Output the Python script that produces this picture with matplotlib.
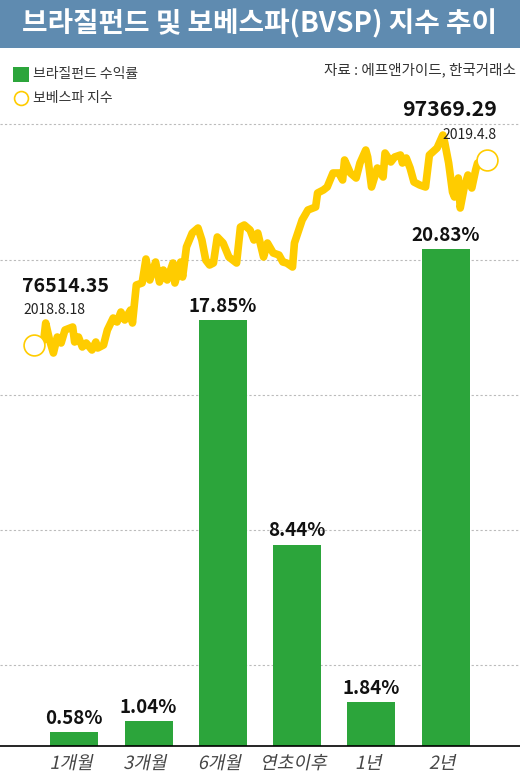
import matplotlib
matplotlib.use("Agg")
from matplotlib import pyplot as plt
from matplotlib.patches import Rectangle, PathPatch
from matplotlib.lines import Line2D
from matplotlib.textpath import TextPath
from matplotlib.font_manager import FontProperties
from matplotlib.transforms import Affine2D, ScaledTranslation

plt.rcParams['font.family'] = ['Noto Sans CJK KR', 'DejaVu Sans']

# fund returns (%)
periods = ["1개월", "3개월", "6개월", "연초이후", "1년", "2년"]
returns = [0.58, 1.04, 17.85, 8.44, 1.84, 20.83]

# BVSP index, days since 2018-08-18
bvsp_day = [0, 3, 4, 6, 8, 10, 12, 14, 18, 19, 21, 23, 25, 28, 30, 31, 34, 36, 39, 41,
            43, 45, 48, 49, 51, 54, 56, 58, 61, 63, 65, 67, 70, 71, 74, 75, 77, 80, 83, 85,
            87, 89, 91, 93, 96, 99, 101, 103, 105, 107, 110, 112, 114, 117, 119, 122, 125, 127, 129, 132,
            133, 137, 140, 144, 145, 148, 150, 153, 156, 158, 159, 162, 165, 167, 170, 171, 173, 176, 179, 180,
            183, 185, 188, 189, 191, 193, 195, 198, 201, 203, 207, 210, 211, 213, 215, 216, 218, 219, 221, 223,
            225, 227, 228, 233]
bvsp = [76514.35, 77078, 78993, 77078, 75612, 77416, 76740, 78205, 78543, 76852,
        77416, 76289, 76740, 75951, 76852, 76176, 76514, 78205, 79557, 79106,
        80233, 79332, 80459, 78993, 83276, 83501, 86206, 83840, 85868, 83614,
        84967, 83840, 85755, 83501, 85868, 84178, 87559, 89136, 89700, 88348,
        86094, 85530, 85755, 88686, 88009, 86432, 86094, 85755, 89813, 90038,
        89475, 88348, 89136, 86432, 88009, 86882, 86657, 85868, 85755, 85305,
        88009, 90602, 91729, 92067, 93644, 93983, 94321, 95898, 95898, 95110,
        97364, 95898, 95335, 97025, 98491, 97702, 94321, 96462, 95448, 98152,
        97138, 97702, 97927, 97025, 97589, 96462, 94884, 94546, 94321, 97927,
        98716, 100181, 99279, 97025, 93757, 93194, 95335, 91954, 94208, 95673,
        94208, 96237, 97025, 97369.29]

grid_levels = [3.39, 9.05, 14.71, 20.37, 26.07]

W, H = 520, 773
fig = plt.figure(figsize=(W / 100, H / 100), dpi=100)
fig.patch.set_facecolor("white")

def fx(px):
    return px / W

def fy(py):
    return 1 - py / H

# title bar
fig.add_artist(Rectangle((0, fy(48)), 1, 48 / H, transform=fig.transFigure,
                         facecolor="#5F8BB0", edgecolor="none"))
fig.text(0.5, fy(24), "브라질펀드 및 보베스파(BVSP) 지수 추이", color="white",
         fontsize=20, fontweight="bold", ha="center", va="center")

# legend + source
green = "#2CA53B"
gold = "#FFCC00"
fig.add_artist(Rectangle((fx(13), fy(82)), fx(16), 15 / H, transform=fig.transFigure,
                         facecolor=green, edgecolor="none"))
fig.text(fx(33), fy(74), "브라질펀드 수익률", fontsize=10, color="#333333", va="center")
fig.add_artist(Line2D([fx(21)], [fy(98)], marker="o", markersize=10, markerfacecolor="white",
                      markeredgecolor=gold, markeredgewidth=1.2, transform=fig.transFigure))
fig.text(fx(33), fy(98), "보베스파 지수", fontsize=10, color="#333333", va="center")
fig.text(fx(516), fy(70), "자료 : 에프앤가이드, 한국거래소", fontsize=10.5, color="#333333",
         ha="right", va="center")

# bars
rect = [0, 1 - 746 / H, 1, (746 - 110) / H]
ax = fig.add_axes(rect)
ax.bar(range(len(periods)), returns, width=0.646, color=green, zorder=2)
for i, v in enumerate(returns):
    ax.annotate(f"{v:.2f}%", (i, v), xytext=(0, 3), textcoords="offset points",
                ha="center", va="bottom", fontsize=13.5, fontweight="bold", color="#111111")
ax.set_xlim(-1, 6)
ax.set_ylim(0, 26.66)
ax.set_xticks(range(len(periods)))
ax.set_xticklabels([])
ax.set_yticks(grid_levels)
ax.set_yticklabels([])
ax.tick_params(length=0)
ax.yaxis.grid(True, linestyle=(0, (2, 2)), color="#bbbbbb", linewidth=0.8, zorder=0)
ax.set_axisbelow(True)
for s in ["top", "left", "right"]:
    ax.spines[s].set_visible(False)
ax.spines["bottom"].set_color("black")
ax.spines["bottom"].set_linewidth(1.2)
ax.patch.set_alpha(0)

# slanted category labels (CJK font has no italic face)
prop = FontProperties(family="Noto Sans CJK KR")
for i, name in enumerate(periods):
    tp = TextPath((0, 0), name, size=13, prop=prop)
    w = tp.get_extents().width
    tr = (Affine2D().translate(-w / 2, -16.5).skew_deg(12, 0).scale(1 / 72)
          + fig.dpi_scale_trans + ScaledTranslation(i, 0, ax.transData))
    fig.add_artist(PathPatch(tp, transform=tr, facecolor="#444444", edgecolor="none"))

# BVSP line
ax2 = fig.add_axes(rect)
ax2.plot(bvsp_day, bvsp, color=gold, linewidth=5.5, solid_joinstyle="round",
         solid_capstyle="round", zorder=3)
for d, v in [(bvsp_day[0] - 2, bvsp[0]), (bvsp_day[-1], bvsp[-1])]:
    ax2.plot(d, v, "o", markersize=15, markerfacecolor="white", markeredgecolor=gold,
             markeredgewidth=1.2, zorder=4)
ax2.set_xlim(-19.7, 250)
ax2.set_ylim(31321, 103000)
ax2.axis("off")

fig.text(fx(22), fy(286), f"{bvsp[0]:.2f}", fontsize=14, fontweight="bold", color="#111111",
         va="center")
fig.text(fx(23), fy(310), "2018.8.18", fontsize=10, color="#222222", va="center")
fig.text(fx(497), fy(110), f"{bvsp[-1]:.2f}", fontsize=15.3, fontweight="bold", color="#111111",
         ha="right", va="center")
fig.text(fx(497), fy(135), "2019.4.8", fontsize=10, color="#222222", ha="right", va="center")

fig.savefig("out.png", dpi=100)
